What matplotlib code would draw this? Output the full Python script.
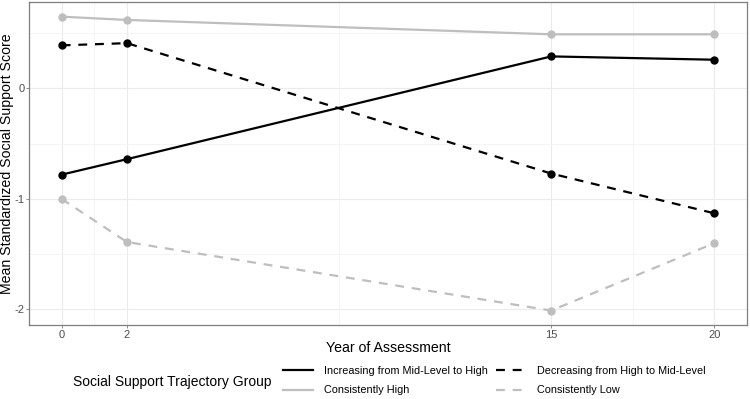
import matplotlib
matplotlib.use('Agg')
import matplotlib.pyplot as plt
from matplotlib.lines import Line2D

plt.rcParams['font.family'] = ['Liberation Sans', 'DejaVu Sans']
plt.rcParams['axes.unicode_minus'] = False

years = [0, 2, 15, 20]
increasing = [-0.78, -0.64, 0.29, 0.26]
decreasing = [0.39, 0.41, -0.77, -1.13]
consistently_high = [0.65, 0.62, 0.49, 0.49]
consistently_low = [-1.00, -1.39, -2.01, -1.40]

groups = [
    ('Increasing from Mid-Level to High', increasing, 'black', '-'),
    ('Consistently High', consistently_high, '#BEBEBE', '-'),
    ('Decreasing from High to Mid-Level', decreasing, 'black', (0, (4, 3.5))),
    ('Consistently Low', consistently_low, '#BEBEBE', (0, (4, 3.5))),
]

fig = plt.figure(figsize=(7.5, 3.99), dpi=100)
ax = fig.add_axes([0.0387, 0.185, 0.9573, 0.810])

handles = []
for label, vals, color, ls in groups:
    ax.plot(years, vals, color=color, linestyle=ls, linewidth=1.6,
            marker='o', markersize=5, zorder=3)
    handles.append(Line2D([], [], color=color, linestyle=ls, linewidth=1.6,
                          label=label))

ax.set_xlim(-1, 21)
ax.set_ylim(-2.1425, 0.7825)
ax.set_xticks(years)
ax.set_xticks([1, 8.5, 17.5], minor=True)
ax.set_yticks([-2, -1, 0])
ax.set_yticks([-1.5, -0.5, 0.5], minor=True)
ax.grid(which='major', color='#EBEBEB', linewidth=0.8)
ax.grid(which='minor', color='#F3F3F3', linewidth=0.6)
ax.set_axisbelow(True)
ax.tick_params(which='minor', length=0)
ax.tick_params(which='major', length=2.2, width=0.6, color='#7F7F7F')
ax.tick_params(labelsize=8, labelcolor='#4D4D4D', pad=1.2)
for s in ax.spines.values():
    s.set_color('#7F7F7F')
    s.set_linewidth(0.9)

ax.set_xlabel('Year of Assessment', fontsize=10.2, labelpad=1)
fig.text(7.5 / 750, 1 - 164 / 399, 'Mean Standardized Social Support Score',
         fontsize=10.2, rotation=90, ha='center', va='center')

fig.text(0.097, 0.043, 'Social Support Trajectory Group', fontsize=10,
         ha='left', va='center')
fig.legend(handles=handles, ncol=2, loc='center left',
           bbox_to_anchor=(0.377, 0.0455), frameon=False, fontsize=7.8,
           handlelength=2.8, handletextpad=1.0, columnspacing=0.75,
           labelspacing=0.85, borderpad=0, borderaxespad=0)

fig.savefig('out.png', dpi=100)
